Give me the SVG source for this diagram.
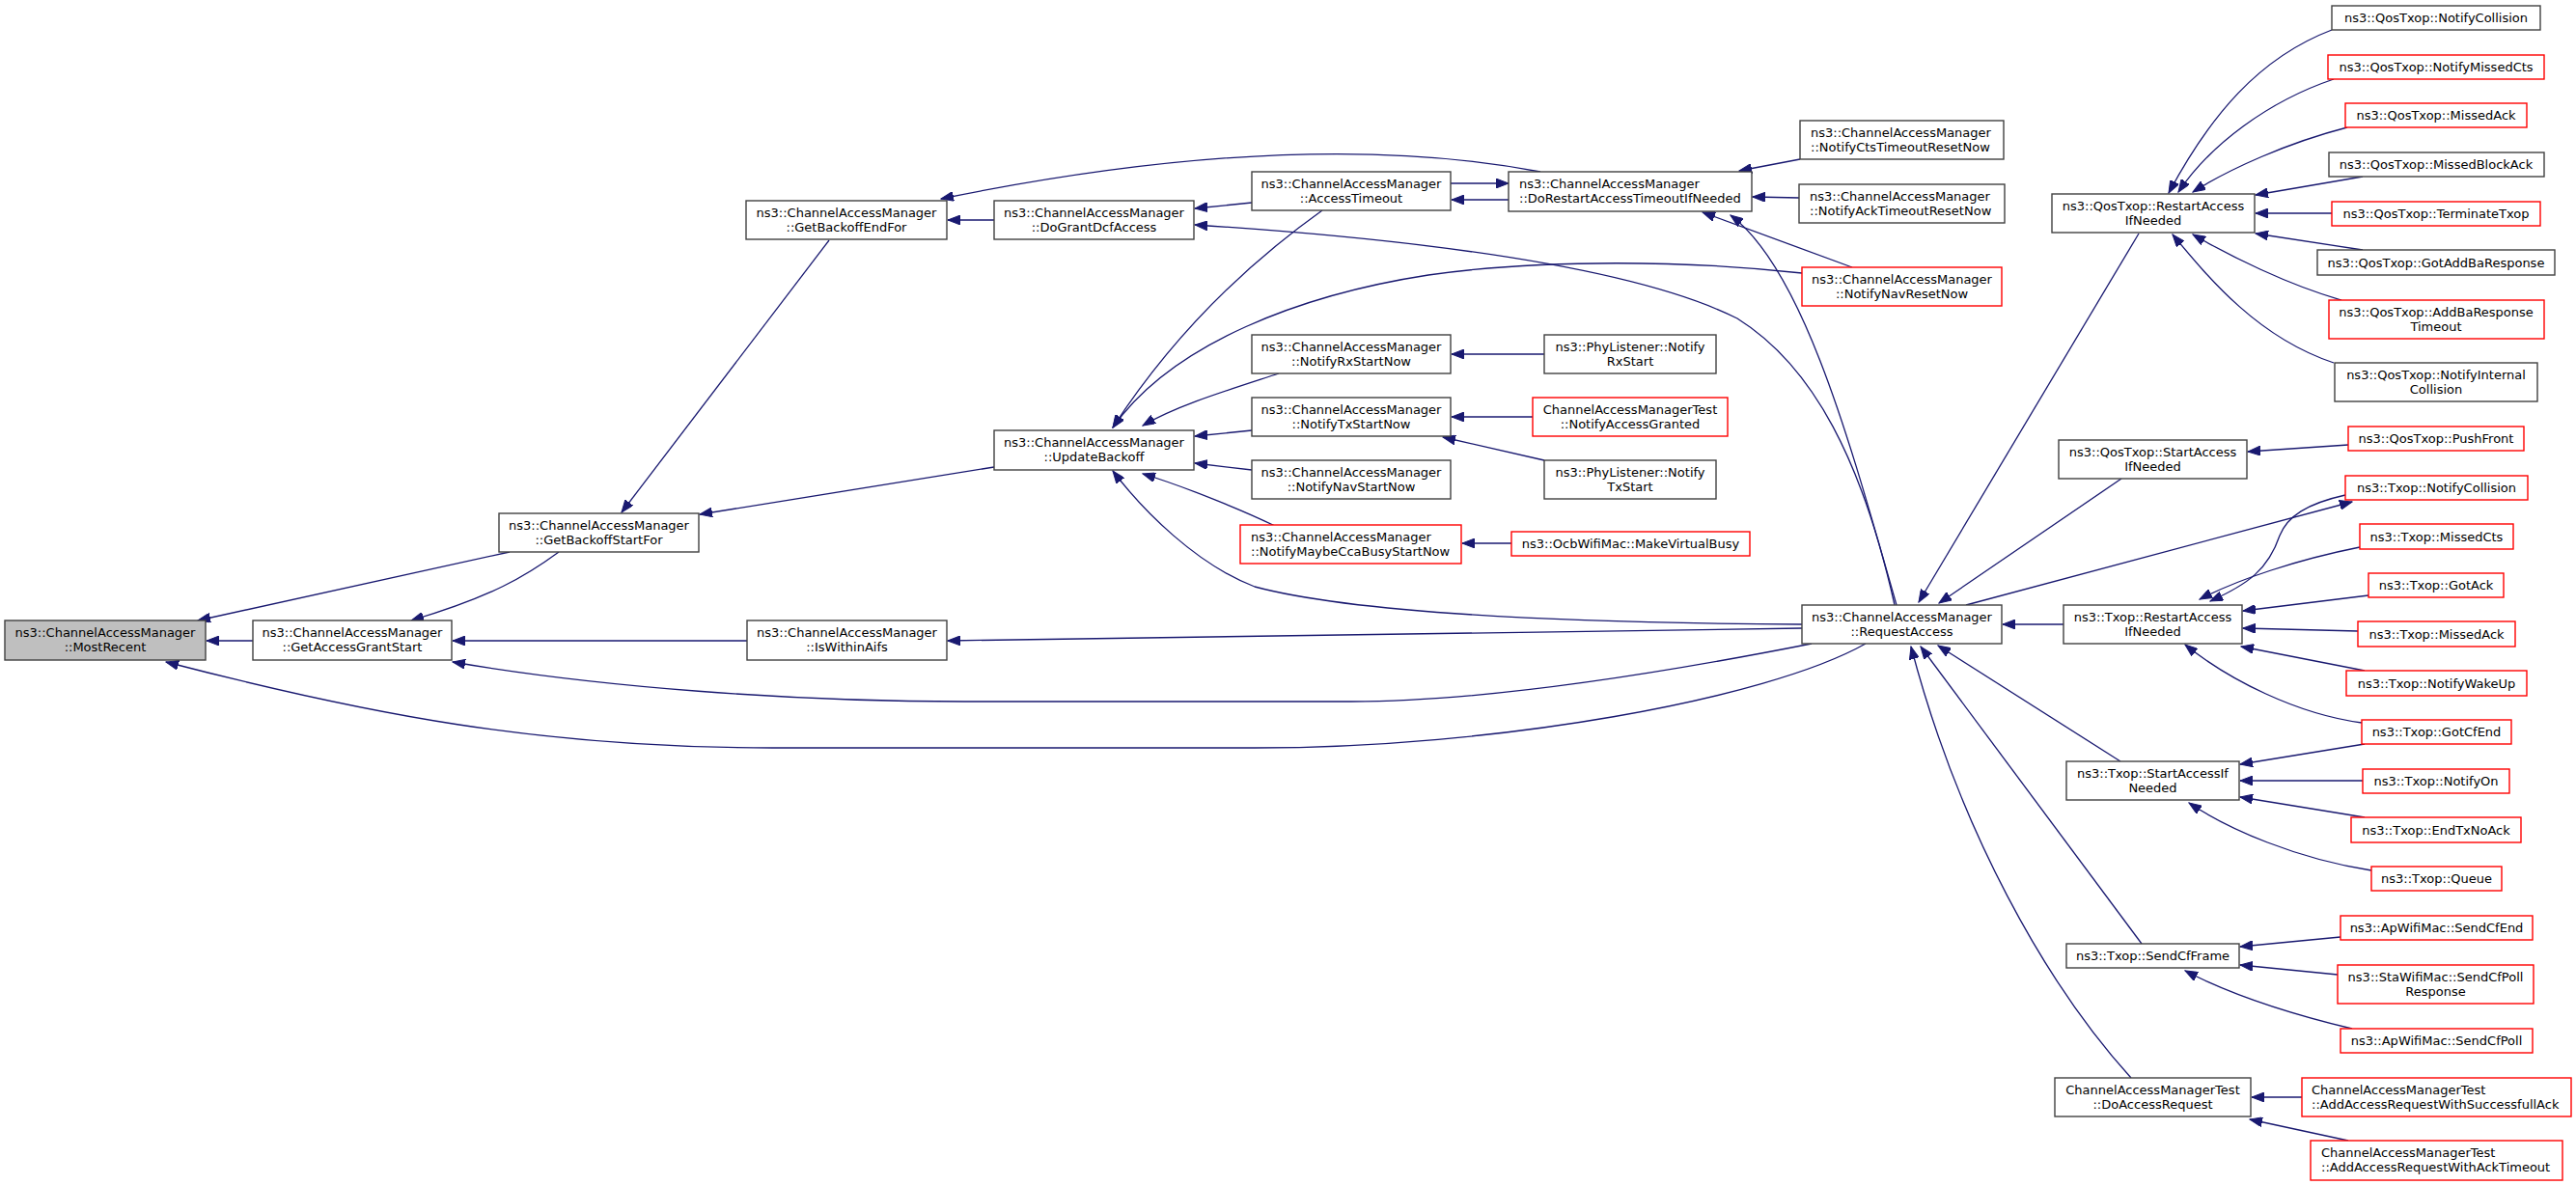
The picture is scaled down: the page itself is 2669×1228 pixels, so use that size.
<svg xmlns="http://www.w3.org/2000/svg" width="2669" height="1228" viewBox="0 0 2669 1228">
<style>
rect{fill:#ffffff;stroke:#404040;stroke-width:1.4}
.r rect{stroke:#ff0000}
.g rect{fill:#bfbfbf}
text{font-family:"DejaVu Sans","Liberation Sans",sans-serif;font-size:13px;fill:#000000;text-anchor:middle}
.l text{text-anchor:start}
#edges path{fill:none;stroke:#191970;stroke-width:1.3;marker-end:url(#ah)}
</style>
<defs>
<marker id="ah" markerWidth="14" markerHeight="10" refX="13" refY="5" orient="auto" markerUnits="userSpaceOnUse">
<path d="M0,0 L13,5 L0,10 z" fill="#191970" stroke="#191970" stroke-width="1"/>
</marker>
</defs>
<rect x="0" y="0" width="2669" height="1228" style="fill:#ffffff;stroke:none"/>
<g id="edges">
<path d="M262,664 L214,664"/>
<path d="M528,572 L205,643"/>
<path d="M1933,667 C1830,725 1550,775 1300,775 L800,775 C560,775 380,740 172,686"/>
<path d="M579,572 C545,597 510,618 426,643"/>
<path d="M774,664 L469,664"/>
<path d="M1877,667 C1750,692 1550,727 1400,727 L1000,727 C820,727 620,712 469,686"/>
<path d="M859,249 L644,531"/>
<path d="M1030,484 L725,533"/>
<path d="M1030,228 L982,228"/>
<path d="M1596,178 C1450,150 1250,150 975,206"/>
<path d="M1297,210 L1238,216"/>
<path d="M1963,627 C1930,480 1880,380 1800,330 C1700,280 1500,250 1238,233"/>
<path d="M1867,283 C1750,270 1600,268 1480,285 C1350,305 1215,355 1153,443"/>
<path d="M1370,218 C1300,268 1220,340 1153,443"/>
<path d="M1325,387 C1270,405 1220,420 1184,441"/>
<path d="M1297,446 L1238,452"/>
<path d="M1297,487 L1238,480"/>
<path d="M1321,545 C1290,530 1230,505 1184,491"/>
<path d="M1867,647 C1700,646 1420,640 1300,608 C1240,585 1185,530 1153,488"/>
<path d="M1600,367 L1504,367"/>
<path d="M1588,432 L1504,432"/>
<path d="M1600,477 L1495,453"/>
<path d="M1566,563 L1515,563"/>
<path d="M1865,165 L1802,177"/>
<path d="M1864,205 L1816,204"/>
<path d="M1919,277 L1764,220"/>
<path d="M1965,627 C1920,470 1870,280 1793,223"/>
<path d="M1503,190 L1563,190"/>
<path d="M1563,207 L1504,207"/>
<path d="M1867,651 C1500,656 1200,662 982,664"/>
<path d="M2216,242 L1988,624"/>
<path d="M2198,496 L2009,625"/>
<path d="M2037,627 L2437,520"/>
<path d="M2138,647 L2075,647"/>
<path d="M2197,789 L2008,669"/>
<path d="M2219,978 L1990,670"/>
<path d="M2208,1117 C2120,1020 2030,860 1980,670"/>
<path d="M2416,31 C2340,60 2290,120 2247,200"/>
<path d="M2418,82 C2350,105 2290,150 2257,199"/>
<path d="M2432,132 C2370,148 2310,175 2272,199"/>
<path d="M2448,183 L2337,202"/>
<path d="M2416,221 L2337,221"/>
<path d="M2448,259 L2337,242"/>
<path d="M2426,311 C2370,295 2310,265 2272,243"/>
<path d="M2418,376 C2340,350 2290,290 2251,243"/>
<path d="M2433,461 L2329,468"/>
<path d="M2430,513 C2390,522 2370,535 2362,555 C2350,590 2330,605 2290,623"/>
<path d="M2445,567 C2380,580 2320,600 2279,621"/>
<path d="M2454,617 L2324,633"/>
<path d="M2443,654 L2324,651"/>
<path d="M2450,695 L2322,670"/>
<path d="M2447,749 C2380,740 2310,705 2264,668"/>
<path d="M2450,771 L2321,792"/>
<path d="M2448,809 L2321,809"/>
<path d="M2450,847 L2321,826"/>
<path d="M2457,902 C2380,890 2310,860 2268,832"/>
<path d="M2425,971 L2321,981"/>
<path d="M2422,1010 L2321,1000"/>
<path d="M2437,1066 C2370,1050 2310,1030 2264,1006"/>
<path d="M2385,1137 L2333,1137"/>
<path d="M2433,1182 L2331,1160"/>
</g>
<g id="n_MostRecent" class="g"><rect x="5" y="643" width="208" height="41"/><text x="109" y="660">ns3::ChannelAccessManager</text><text x="109" y="674.5">::MostRecent</text></g>
<g id="n_GetAccessGrantStart"><rect x="262" y="643" width="206" height="41"/><text x="365" y="660">ns3::ChannelAccessManager</text><text x="365" y="674.5">::GetAccessGrantStart</text></g>
<g id="n_GetBackoffStartFor"><rect x="517" y="532" width="207" height="40"/><text x="620.5" y="549">ns3::ChannelAccessManager</text><text x="620.5" y="563.5">::GetBackoffStartFor</text></g>
<g id="n_GetBackoffEndFor"><rect x="773" y="208" width="208" height="40"/><text x="877" y="225">ns3::ChannelAccessManager</text><text x="877" y="239.5">::GetBackoffEndFor</text></g>
<g id="n_IsWithinAifs"><rect x="774" y="643" width="207" height="41"/><text x="877.5" y="660">ns3::ChannelAccessManager</text><text x="877.5" y="674.5">::IsWithinAifs</text></g>
<g id="n_DoGrantDcfAccess"><rect x="1030" y="208" width="207" height="40"/><text x="1133.5" y="225">ns3::ChannelAccessManager</text><text x="1133.5" y="239.5">::DoGrantDcfAccess</text></g>
<g id="n_UpdateBackoff"><rect x="1030" y="446" width="207" height="41"/><text x="1133.5" y="463">ns3::ChannelAccessManager</text><text x="1133.5" y="477.5">::UpdateBackoff</text></g>
<g id="n_AccessTimeout"><rect x="1297" y="178" width="206" height="40"/><text x="1400" y="195">ns3::ChannelAccessManager</text><text x="1400" y="209.5">::AccessTimeout</text></g>
<g id="n_NotifyRxStartNow"><rect x="1297" y="347" width="206" height="40"/><text x="1400" y="364">ns3::ChannelAccessManager</text><text x="1400" y="378.5">::NotifyRxStartNow</text></g>
<g id="n_NotifyTxStartNow"><rect x="1297" y="412" width="206" height="40"/><text x="1400" y="429">ns3::ChannelAccessManager</text><text x="1400" y="443.5">::NotifyTxStartNow</text></g>
<g id="n_NotifyNavStartNow"><rect x="1297" y="477" width="206" height="40"/><text x="1400" y="494">ns3::ChannelAccessManager</text><text x="1400" y="508.5">::NotifyNavStartNow</text></g>
<g id="n_NotifyMaybeCcaBusyStartNow" class="r l"><rect x="1285" y="544" width="229" height="40"/><text x="1296" y="561">ns3::ChannelAccessManager</text><text x="1296" y="575.5">::NotifyMaybeCcaBusyStartNow</text></g>
<g id="n_DoRestartAccessTimeoutIfNeeded" class="l"><rect x="1563" y="178" width="252" height="41"/><text x="1574" y="195">ns3::ChannelAccessManager</text><text x="1574" y="209.5">::DoRestartAccessTimeoutIfNeeded</text></g>
<g id="n_PhyNotifyRxStart"><rect x="1600" y="347" width="178" height="40"/><text x="1689" y="364">ns3::PhyListener::Notify</text><text x="1689" y="378.5">RxStart</text></g>
<g id="n_NotifyAccessGranted" class="r"><rect x="1588" y="412" width="202" height="40"/><text x="1689" y="429">ChannelAccessManagerTest</text><text x="1689" y="443.5">::NotifyAccessGranted</text></g>
<g id="n_PhyNotifyTxStart"><rect x="1600" y="477" width="178" height="40"/><text x="1689" y="494">ns3::PhyListener::Notify</text><text x="1689" y="508.5">TxStart</text></g>
<g id="n_MakeVirtualBusy" class="r"><rect x="1566" y="551" width="247" height="25"/><text x="1689.5" y="568">ns3::OcbWifiMac::MakeVirtualBusy</text></g>
<g id="n_NotifyCtsTimeoutResetNow" class="l"><rect x="1865" y="125" width="211" height="40"/><text x="1876" y="142">ns3::ChannelAccessManager</text><text x="1876" y="156.5">::NotifyCtsTimeoutResetNow</text></g>
<g id="n_NotifyAckTimeoutResetNow" class="l"><rect x="1864" y="191" width="213" height="40"/><text x="1875" y="208">ns3::ChannelAccessManager</text><text x="1875" y="222.5">::NotifyAckTimeoutResetNow</text></g>
<g id="n_NotifyNavResetNow" class="r"><rect x="1867" y="277" width="207" height="40"/><text x="1970.5" y="294">ns3::ChannelAccessManager</text><text x="1970.5" y="308.5">::NotifyNavResetNow</text></g>
<g id="n_RequestAccess"><rect x="1867" y="627" width="207" height="40"/><text x="1970.5" y="644">ns3::ChannelAccessManager</text><text x="1970.5" y="658.5">::RequestAccess</text></g>
<g id="n_QosNotifyCollision"><rect x="2416" y="6" width="216" height="25"/><text x="2524" y="23">ns3::QosTxop::NotifyCollision</text></g>
<g id="n_QosNotifyMissedCts" class="r"><rect x="2412" y="57" width="224" height="25"/><text x="2524" y="74">ns3::QosTxop::NotifyMissedCts</text></g>
<g id="n_QosMissedAck" class="r"><rect x="2430" y="107" width="188" height="25"/><text x="2524" y="124">ns3::QosTxop::MissedAck</text></g>
<g id="n_QosMissedBlockAck"><rect x="2413" y="158" width="223" height="25"/><text x="2524" y="175">ns3::QosTxop::MissedBlockAck</text></g>
<g id="n_QosTerminateTxop" class="r"><rect x="2416" y="209" width="216" height="25"/><text x="2524" y="226">ns3::QosTxop::TerminateTxop</text></g>
<g id="n_QosGotAddBaResponse"><rect x="2401" y="259" width="246" height="26"/><text x="2524" y="276.5">ns3::QosTxop::GotAddBaResponse</text></g>
<g id="n_QosAddBaResponseTimeout" class="r"><rect x="2413" y="311" width="223" height="40"/><text x="2524" y="328">ns3::QosTxop::AddBaResponse</text><text x="2524" y="342.5">Timeout</text></g>
<g id="n_QosNotifyInternalCollision"><rect x="2419" y="376" width="210" height="40"/><text x="2524" y="393">ns3::QosTxop::NotifyInternal</text><text x="2524" y="407.5">Collision</text></g>
<g id="n_QosRestartAccessIfNeeded"><rect x="2126" y="201" width="210" height="40"/><text x="2231" y="218">ns3::QosTxop::RestartAccess</text><text x="2231" y="232.5">IfNeeded</text></g>
<g id="n_QosStartAccessIfNeeded"><rect x="2133" y="456" width="195" height="40"/><text x="2230.5" y="473">ns3::QosTxop::StartAccess</text><text x="2230.5" y="487.5">IfNeeded</text></g>
<g id="n_QosPushFront" class="r"><rect x="2433" y="442" width="182" height="25"/><text x="2524" y="459">ns3::QosTxop::PushFront</text></g>
<g id="n_TxopNotifyCollision" class="r"><rect x="2430" y="493" width="189" height="25"/><text x="2524.5" y="510">ns3::Txop::NotifyCollision</text></g>
<g id="n_TxopMissedCts" class="r"><rect x="2445" y="543" width="159" height="26"/><text x="2524.5" y="560.5">ns3::Txop::MissedCts</text></g>
<g id="n_TxopGotAck" class="r"><rect x="2454" y="594" width="140" height="25"/><text x="2524" y="611">ns3::Txop::GotAck</text></g>
<g id="n_TxopMissedAck" class="r"><rect x="2443" y="644" width="163" height="26"/><text x="2524.5" y="661.5">ns3::Txop::MissedAck</text></g>
<g id="n_TxopNotifyWakeUp" class="r"><rect x="2431" y="695" width="187" height="26"/><text x="2524.5" y="712.5">ns3::Txop::NotifyWakeUp</text></g>
<g id="n_TxopGotCfEnd" class="r"><rect x="2447" y="746" width="155" height="25"/><text x="2524.5" y="763">ns3::Txop::GotCfEnd</text></g>
<g id="n_TxopNotifyOn" class="r"><rect x="2448" y="797" width="152" height="25"/><text x="2524" y="814">ns3::Txop::NotifyOn</text></g>
<g id="n_TxopRestartAccessIfNeeded"><rect x="2138" y="627" width="185" height="40"/><text x="2230.5" y="644">ns3::Txop::RestartAccess</text><text x="2230.5" y="658.5">IfNeeded</text></g>
<g id="n_TxopStartAccessIfNeeded"><rect x="2141" y="789" width="179" height="40"/><text x="2230.5" y="806">ns3::Txop::StartAccessIf</text><text x="2230.5" y="820.5">Needed</text></g>
<g id="n_TxopEndTxNoAck" class="r"><rect x="2436" y="847" width="176" height="26"/><text x="2524" y="864.5">ns3::Txop::EndTxNoAck</text></g>
<g id="n_TxopQueue" class="r"><rect x="2457" y="898" width="135" height="25"/><text x="2524.5" y="915">ns3::Txop::Queue</text></g>
<g id="n_ApSendCfEnd" class="r"><rect x="2425" y="949" width="199" height="25"/><text x="2524.5" y="966">ns3::ApWifiMac::SendCfEnd</text></g>
<g id="n_StaSendCfPollResponse" class="r"><rect x="2422" y="1000" width="203" height="40"/><text x="2523.5" y="1017">ns3::StaWifiMac::SendCfPoll</text><text x="2523.5" y="1031.5">Response</text></g>
<g id="n_ApSendCfPoll" class="r"><rect x="2425" y="1066" width="199" height="25"/><text x="2524.5" y="1083">ns3::ApWifiMac::SendCfPoll</text></g>
<g id="n_AddAccessRequestWithSuccessfullAck" class="r l"><rect x="2385" y="1117" width="279" height="40"/><text x="2395" y="1134">ChannelAccessManagerTest</text><text x="2395" y="1148.5">::AddAccessRequestWithSuccessfullAck</text></g>
<g id="n_AddAccessRequestWithAckTimeout" class="r l"><rect x="2394" y="1182" width="261" height="41"/><text x="2405" y="1199">ChannelAccessManagerTest</text><text x="2405" y="1213.5">::AddAccessRequestWithAckTimeout</text></g>
<g id="n_TxopSendCfFrame"><rect x="2141" y="978" width="179" height="25"/><text x="2230.5" y="995">ns3::Txop::SendCfFrame</text></g>
<g id="n_DoAccessRequest"><rect x="2129" y="1117" width="203" height="40"/><text x="2230.5" y="1134">ChannelAccessManagerTest</text><text x="2230.5" y="1148.5">::DoAccessRequest</text></g>
</svg>
